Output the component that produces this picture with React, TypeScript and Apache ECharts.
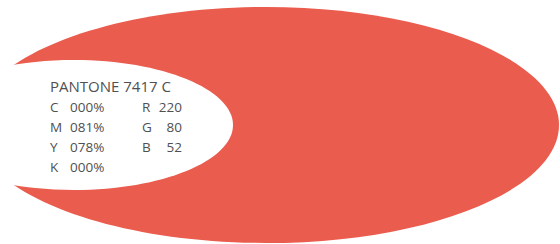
import React, { useEffect, useRef } from "react";
import * as echarts from "echarts";

const title = "PANTONE 7417 C";
const cmykLabels = ["C", "M", "Y", "K"];
const cmykValues = ["000%", "081%", "078%", "000%"];
const rgbLabels = ["R", "G", "B"];
const rgbValues = [220, 80, 52];

const RED = "#EA5C4E";
const TEXT = "#505050";
const FONT = "'Open Sans', 'Noto Sans', sans-serif";

export default function App() {
  const ref = useRef<HTMLDivElement>(null);
  useEffect(() => {
    if (!ref.current) return;
    const chart = echarts.init(ref.current, undefined, { renderer: "svg" });
    const rowY0 = 107;
    const rowStep = 20;
    const rowFont = `13.5px ${FONT}`;
    const texts: any[] = [];
    texts.push({
      type: "text",
      x: 50,
      y: 86,
      style: { text: title, font: `15px ${FONT}`, fill: TEXT, verticalAlign: "middle", textAlign: "left" },
    });
    cmykLabels.forEach((l, i) => {
      texts.push({
        type: "text", x: 50, y: rowY0 + i * rowStep,
        style: { text: l, font: rowFont, fill: TEXT, verticalAlign: "middle", textAlign: "left" },
      });
      texts.push({
        type: "text", x: 70, y: rowY0 + i * rowStep,
        style: { text: cmykValues[i], font: rowFont, fill: TEXT, verticalAlign: "middle", textAlign: "left" },
      });
    });
    rgbLabels.forEach((l, i) => {
      texts.push({
        type: "text", x: 142, y: rowY0 + i * rowStep,
        style: { text: l, font: rowFont, fill: TEXT, verticalAlign: "middle", textAlign: "left" },
      });
      texts.push({
        type: "text", x: 182, y: rowY0 + i * rowStep,
        style: { text: String(rgbValues[i]), font: rowFont, fill: TEXT, verticalAlign: "middle", textAlign: "right" },
      });
    });
    chart.setOption({
      animation: false,
      backgroundColor: "#ffffff",
      graphic: [
        { type: "ellipse", shape: { cx: 266, cy: 125, rx: 293, ry: 118 }, style: { fill: RED } },
        { type: "ellipse", shape: { cx: 74, cy: 125, rx: 159, ry: 65 }, style: { fill: "#ffffff" } },
        ...texts,
      ],
    });
    return () => chart.dispose();
  }, []);
  return (
    <div
      ref={ref}
      style={{ position: "fixed", left: 0, top: 0, width: 560, height: 244 }}
    />
  );
}
